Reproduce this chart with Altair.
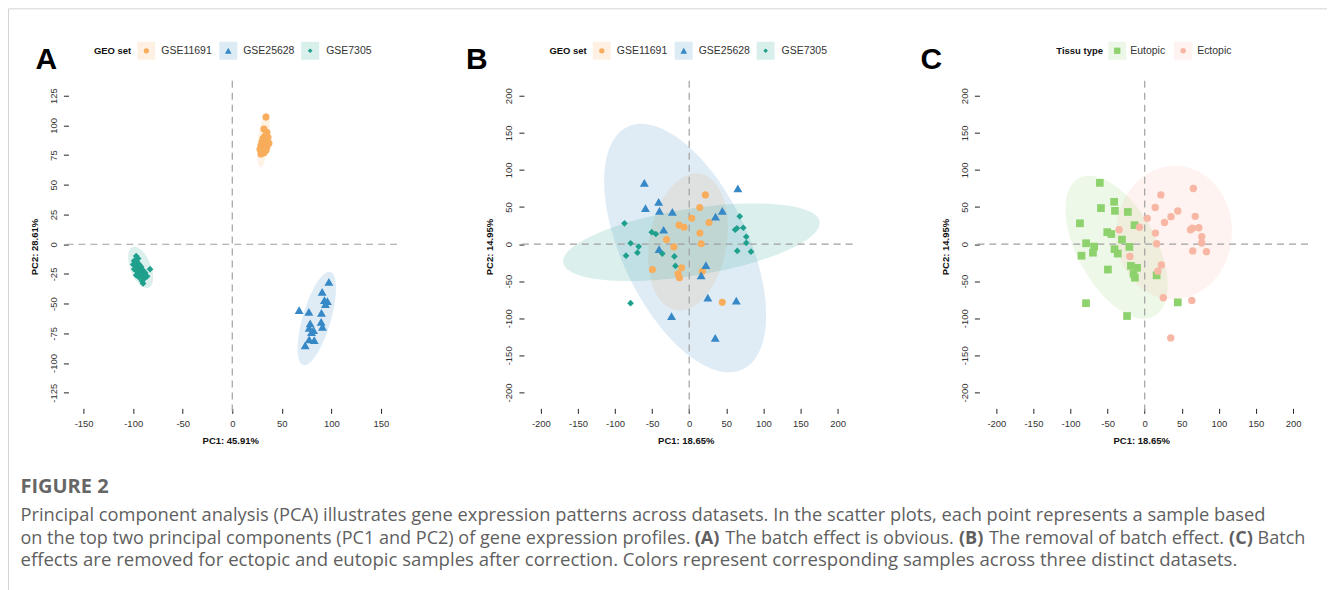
import numpy as np
import pandas as pd
import altair as alt

# ---------------- categories ----------------
geo_sets = ["GSE11691", "GSE25628", "GSE7305"]
tissue_types = ["Eutopic", "Ectopic"]

# ---------------- Panel A (before batch correction) ----------------
a_gse11691_pc1 = [34, 32, 35, 33, 31, 35, 30, 33, 37, 29, 32, 35, 28, 31, 34, 30, 32, 29, 33, 36]
a_gse11691_pc2 = [107, 97, 94, 91, 89, 88, 86, 85, 85, 83, 82, 82, 80, 80, 79, 78, 77, 76, 88, 90]
a_gse25628_pc1 = [97.5, 90.7, 93, 96, 94, 67.5, 77.3, 90, 89.7, 78.6, 91, 77.6, 82, 80, 77.6, 82.7, 73.6]
a_gse25628_pc2 = [-31.7, -40, -47, -47.9, -50.4, -55.5, -56.9, -57.7, -65.3, -66.6, -69.5, -70.3, -72.3, -74, -80, -80.7, -85.1]
a_gse7305_pc1 = [-97, -95, -99, -96, -100, -94, -97, -92, -99, -95, -83, -90, -96, -93, -88, -97, -91, -86, -94, -89, -91, -90]
a_gse7305_pc2 = [-10, -12, -14, -15, -17, -17, -19, -19, -21, -21, -21, -22, -23, -24, -24, -26, -26, -27, -28, -29, -31, -33]

# ---------------- Panels B and C (after correction, same samples) ----------------
bc_pc1 = [-60.5, 65.6, -41.2, -59, -40.1, -22.7, 44.6, 35.5, -34.5, -40.6, 22.5, 16.1, 25.1, 63.5, -23.8, 35.1,
          21.8, 14.2, 3.4, 26.7, -13.7, -7, 14.4, -30.6, -20.7, 16.1, -49.6, -10.3, -15, -13.2, 17.7, 44.6,
          -87.3, 68.1, -50.5, -45, 61.9, 64.4, 72.9, 76.9, -79, -68.2, 76.9, -85.2, -69.8, -36.3, -20, 64.8, 83.3, -18.6, -79.1]
bc_pc2 = [82.5, 75, 57, 48.5, 44.8, 43.3, 44.6, 37, 19.3, -6.8, -28.3, -42.1, -72.3, -76.1, -97, -126.5,
          66.3, 49.2, 34.7, 29, 25.5, 22.6, 14.8, 6, -3.8, 0.5, -34.3, -32, -40.1, -45.3, -36.6, -78.6,
          28, 37.4, 16.1, 13.6, 19.3, 21.3, 22, 9.9, 1.1, -3.4, 1.5, -15.7, -11.6, -12.8, -16.6, -9.2, -10.3, -29.4, -79.7]
bc_geo = ["GSE25628"] * 16 + ["GSE11691"] * 16 + ["GSE7305"] * 19
bc_tissue = ["Eutopic", "Ectopic", "Eutopic", "Eutopic", "Eutopic", "Eutopic", "Ectopic", "Ectopic", "Ectopic",
             "Eutopic", "Ectopic", "Eutopic", "Ectopic", "Ectopic", "Eutopic", "Ectopic",
             "Ectopic", "Ectopic", "Ectopic", "Ectopic", "Eutopic", "Ectopic", "Ectopic", "Eutopic", "Eutopic",
             "Ectopic", "Eutopic", "Eutopic", "Eutopic", "Eutopic", "Ectopic", "Eutopic",
             "Eutopic", "Ectopic", "Eutopic", "Eutopic", "Ectopic", "Ectopic", "Ectopic", "Ectopic", "Eutopic",
             "Eutopic", "Ectopic", "Eutopic", "Eutopic", "Eutopic", "Ectopic", "Ectopic", "Ectopic", "Eutopic", "Eutopic"]

# ---------------- confidence ellipses (centre, semi-axes, angle in degrees) ----------------
a_ell_cx = [31.6, 85.3, -92.5]
a_ell_cy = [88, -62.5, -19.5]
a_ell_a = [23.5, 41.5, 19]
a_ell_b = [5.5, 14, 10]
a_ell_ang = [82, 70, -62]

b_ell_cx = [-1.6, -5.5, 3]
b_ell_cy = [2.9, -5.4, 2.5]
b_ell_a = [93.5, 181, 175]
b_ell_b = [52, 85, 45]
b_ell_ang = [80, -64.6, 9.1]

c_ell_cx = [-38, 39.6]
c_ell_cy = [-4.2, 15.6]
c_ell_a = [106, 90]
c_ell_b = [53, 78]
c_ell_ang = [-61.4, 87]

# ---------------- ticks and texts ----------------
a_xticks = [-150, -100, -50, 0, 50, 100, 150]
a_yticks = [-125, -100, -75, -50, -25, 0, 25, 50, 75, 100, 125]
bc_xticks = [-200, -150, -100, -50, 0, 50, 100, 150, 200]
bc_yticks = [-200, -150, -100, -50, 0, 50, 100, 150, 200]

a_xtitle, a_ytitle = "PC1: 45.91%", "PC2: 28.61%"
bc_xtitle, bc_ytitle = "PC1: 18.65%", "PC2: 14.95%"
geo_title = "GEO set"
tissue_title = "Tissu type"
panel_letters = ["A", "B", "C"]

caption_head = "FIGURE 2"
caption_line1 = ("Principal component analysis (PCA) illustrates gene expression patterns across datasets. "
                 "In the scatter plots, each point represents a sample based")
caption_line2_parts = [
    "on the top two principal components (PC1 and PC2) of gene expression profiles.",
    "(A)", "The batch effect is obvious.", "(B)", "The removal of batch effect.", "(C)", "Batch",
]
caption_line2_bold = [False, True, False, True, False, True, False]
caption_line3 = ("effects are removed for ectopic and eutopic samples after correction. "
                 "Colors represent corresponding samples across three distinct datasets.")

# ---------------- styles ----------------
FONT = "Liberation Sans"
CAP_FONT = "Open Sans"
CAP_SIZE = 18.3
CAP2_SIZE = 18.1
CAP3_SIZE = 18.6
CAP_COL = "#5f5f5f"
geo_colors = ["#F7AD5B", "#3689C6", "#1FA08D"]
geo_shapes = ["circle", "triangle-up", "diamond"]
geo_sizes = [50, 80, 45]
geo_key_sizes = [28, 45, 22]
tis_colors = ["#8ED26E", "#F8B7A4"]
tis_shapes = ["square", "circle"]
tis_sizes = [60, 55]
tis_key_sizes = [40, 30]
ELL_OP = 0.16
W, H = 334, 332


def ellipse_df(cx, cy, a, b, ang, n=120):
    t = np.linspace(0, 2 * np.pi, n, endpoint=False)
    th = np.deg2rad(ang)
    x = cx + a * np.cos(t) * np.cos(th) - b * np.sin(t) * np.sin(th)
    y = cy + a * np.cos(t) * np.sin(th) + b * np.sin(t) * np.cos(th)
    return pd.DataFrame({"pc1": x, "pc2": y, "i": np.arange(n)})


def one(**kw):
    return pd.DataFrame({k: [v] for k, v in kw.items()} or {"d": [0]})


def panel(groups, colors, shapes, sizes, key_sizes, pts, ells, xdom, ydom, xticks, yticks,
          xtitle, ytitle, leg_title, leg_title_x, key_x, lab_x, letter, letter_x, extra=()):
    xs = alt.Scale(domain=xdom, nice=False, zero=False)
    ys = alt.Scale(domain=ydom, nice=False, zero=False)
    xax = alt.Axis(values=xticks, title=xtitle, domain=False, grid=False, tickSize=5, tickColor="#222",
                   labelExpr="'' + datum.value", labelFont=FONT, labelFontSize=9.5, labelColor="#333",
                   labelPadding=5, offset=-4, titleFont=FONT, titleFontSize=9.5, titleFontWeight="bold",
                   titleColor="#111", titlePadding=8)
    yax = alt.Axis(values=yticks, title=ytitle, domain=False, grid=False, tickSize=5, tickColor="#222",
                   labelExpr="'' + datum.value", labelFont=FONT, labelFontSize=9.5, labelColor="#333",
                   labelAngle=270, labelAlign="center", labelBaseline="bottom", labelPadding=5, offset=-5,
                   titleFont=FONT, titleFontSize=9.5, titleFontWeight="bold", titleColor="#111", titlePadding=9)
    X = lambda f: alt.X(f, scale=xs, axis=xax)
    Y = lambda f: alt.Y(f, scale=ys, axis=yax)
    layers = []
    for g, col in zip(groups, colors):
        layers.append(alt.Chart(ells[g]).mark_line(fill=col, fillOpacity=ELL_OP, strokeOpacity=0,
                                                   interpolate="linear-closed")
                      .encode(x=X("pc1:Q"), y=Y("pc2:Q"), order=alt.Order("i:Q")))
    zero = pd.DataFrame({"v": [0]})
    layers.append(alt.Chart(zero).mark_rule(color="#a0a0a0", strokeDash=[7, 5], strokeWidth=1.2)
                  .encode(x=X("v:Q")))
    layers.append(alt.Chart(zero).mark_rule(color="#a0a0a0", strokeDash=[7, 5], strokeWidth=1.2)
                  .encode(y=Y("v:Q")))
    for g, col, shp, sz in zip(groups, colors, shapes, sizes):
        layers.append(alt.Chart(pts[g]).mark_point(filled=True, shape=shp, size=sz, color=col, opacity=1)
                      .encode(x=X("pc1:Q"), y=Y("pc2:Q")))
    # legend
    ly = -30
    layers.append(alt.Chart(one(t=leg_title)).mark_text(font=FONT, fontSize=9.5, fontWeight="bold", color="#111",
                                                        align="left", baseline="middle")
                  .encode(text="t:N", x=alt.value(leg_title_x), y=alt.value(ly)))
    for g, col, shp, ks, kx, lx in zip(groups, colors, shapes, key_sizes, key_x, lab_x):
        layers.append(alt.Chart(one(t=g)).mark_square(size=324, color=col, opacity=0.17)
                      .encode(x=alt.value(kx), y=alt.value(ly)))
        layers.append(alt.Chart(one(t=g)).mark_point(shape=shp, filled=True, size=ks, color=col, opacity=1)
                      .encode(x=alt.value(kx), y=alt.value(ly)))
        layers.append(alt.Chart(one(t=g)).mark_text(font=FONT, fontSize=10.5, color="#333", align="left",
                                                    baseline="middle")
                      .encode(text="t:N", x=alt.value(lx), y=alt.value(ly)))
    layers.append(alt.Chart(one(t=letter)).mark_text(font=FONT, fontSize=30, fontWeight="bold", color="#000",
                                                     align="left", baseline="alphabetic")
                  .encode(text="t:N", x=alt.value(letter_x), y=alt.value(-12)))
    layers.extend(extra)
    return alt.layer(*layers).properties(width=W, height=H)


# ---------------- data frames ----------------
a_pts = {
    "GSE11691": pd.DataFrame({"pc1": a_gse11691_pc1, "pc2": a_gse11691_pc2}),
    "GSE25628": pd.DataFrame({"pc1": a_gse25628_pc1, "pc2": a_gse25628_pc2}),
    "GSE7305": pd.DataFrame({"pc1": a_gse7305_pc1, "pc2": a_gse7305_pc2}),
}
a_ells = {g: ellipse_df(a_ell_cx[i], a_ell_cy[i], a_ell_a[i], a_ell_b[i], a_ell_ang[i]) for i, g in enumerate(geo_sets)}
bc = pd.DataFrame({"pc1": bc_pc1, "pc2": bc_pc2, "geo": bc_geo, "tissue": bc_tissue})
b_pts = {g: bc[bc.geo == g] for g in geo_sets}
b_ells = {g: ellipse_df(b_ell_cx[i], b_ell_cy[i], b_ell_a[i], b_ell_b[i], b_ell_ang[i]) for i, g in enumerate(geo_sets)}
c_pts = {t: bc[bc.tissue == t] for t in tissue_types}
c_ells = {t: ellipse_df(c_ell_cx[i], c_ell_cy[i], c_ell_a[i], c_ell_b[i], c_ell_ang[i]) for i, t in enumerate(tissue_types)}

# ---------------- frame and caption (page furniture, drawn with panel A) ----------------
ox = -43                       # caption left edge relative to panel A's plot origin
line2_x = [0, 675, 705.5, 939.5, 969.5, 1210, 1238.5]   # left offsets of the line-2 pieces
frame_col = "#d4d4d4"


def cap_text(txt, x, y, bold=False, size=CAP_SIZE, col=CAP_COL):
    return (alt.Chart(one(t=txt)).mark_text(font=CAP_FONT, fontSize=size, fontWeight="bold" if bold else "normal",
                                            color=col, align="left", baseline="alphabetic")
            .encode(text="t:N", x=alt.value(x), y=alt.value(y)))


extra = [
    alt.Chart(one()).mark_rule(color=frame_col, strokeWidth=1)
    .encode(x=alt.value(-55), x2=alt.value(1265), y=alt.value(-72)),
    alt.Chart(one()).mark_rule(color=frame_col, strokeWidth=1)
    .encode(x=alt.value(-55), y=alt.value(-72), y2=alt.value(510)),
    cap_text(caption_head, ox, 413, bold=True, size=20, col="#666666"),
    cap_text(caption_line1, ox, 441),
    cap_text(caption_line3, ox, 486, size=CAP3_SIZE),
]
for part, bold, dx in zip(caption_line2_parts, caption_line2_bold, line2_x):
    extra.append(cap_text(part, ox + dx, 463.5, bold=bold, size=CAP2_SIZE))

pA = panel(geo_sets, geo_colors, geo_shapes, geo_sizes, geo_key_sizes, a_pts, a_ells,
           [-170.4, 166.3], [-141.5, 137.6], a_xticks, a_yticks, a_xtitle, a_ytitle,
           geo_title, 30.5, [83, 165, 247], [98, 180, 263], panel_letters[0], -28, extra)
pB = panel(geo_sets, geo_colors, geo_shapes, geo_sizes, geo_key_sizes, b_pts, b_ells,
           [-229.6, 220.2], [-226.9, 220.2], bc_xticks, bc_yticks, bc_xtitle, bc_ytitle,
           geo_title, 30.5, [83, 165, 247], [98, 180, 263], panel_letters[1], -53)
pC = panel(tissue_types, tis_colors, tis_shapes, tis_sizes, tis_key_sizes, c_pts, c_ells,
           [-229.6, 220.2], [-226.9, 220.2], bc_xticks, bc_yticks, bc_xtitle, bc_ytitle,
           tissue_title, 82, [143, 209], [156, 223], panel_letters[2], -54)

chart = (alt.hconcat(pA, pB, pC, spacing=122, bounds="flush")
         .properties(padding={"left": 7.5, "top": 7.5, "right": 0, "bottom": 0}, background="white")
         .configure_view(stroke=None))

chart.save("out.html", embed_options={"renderer": "svg", "actions": False})
